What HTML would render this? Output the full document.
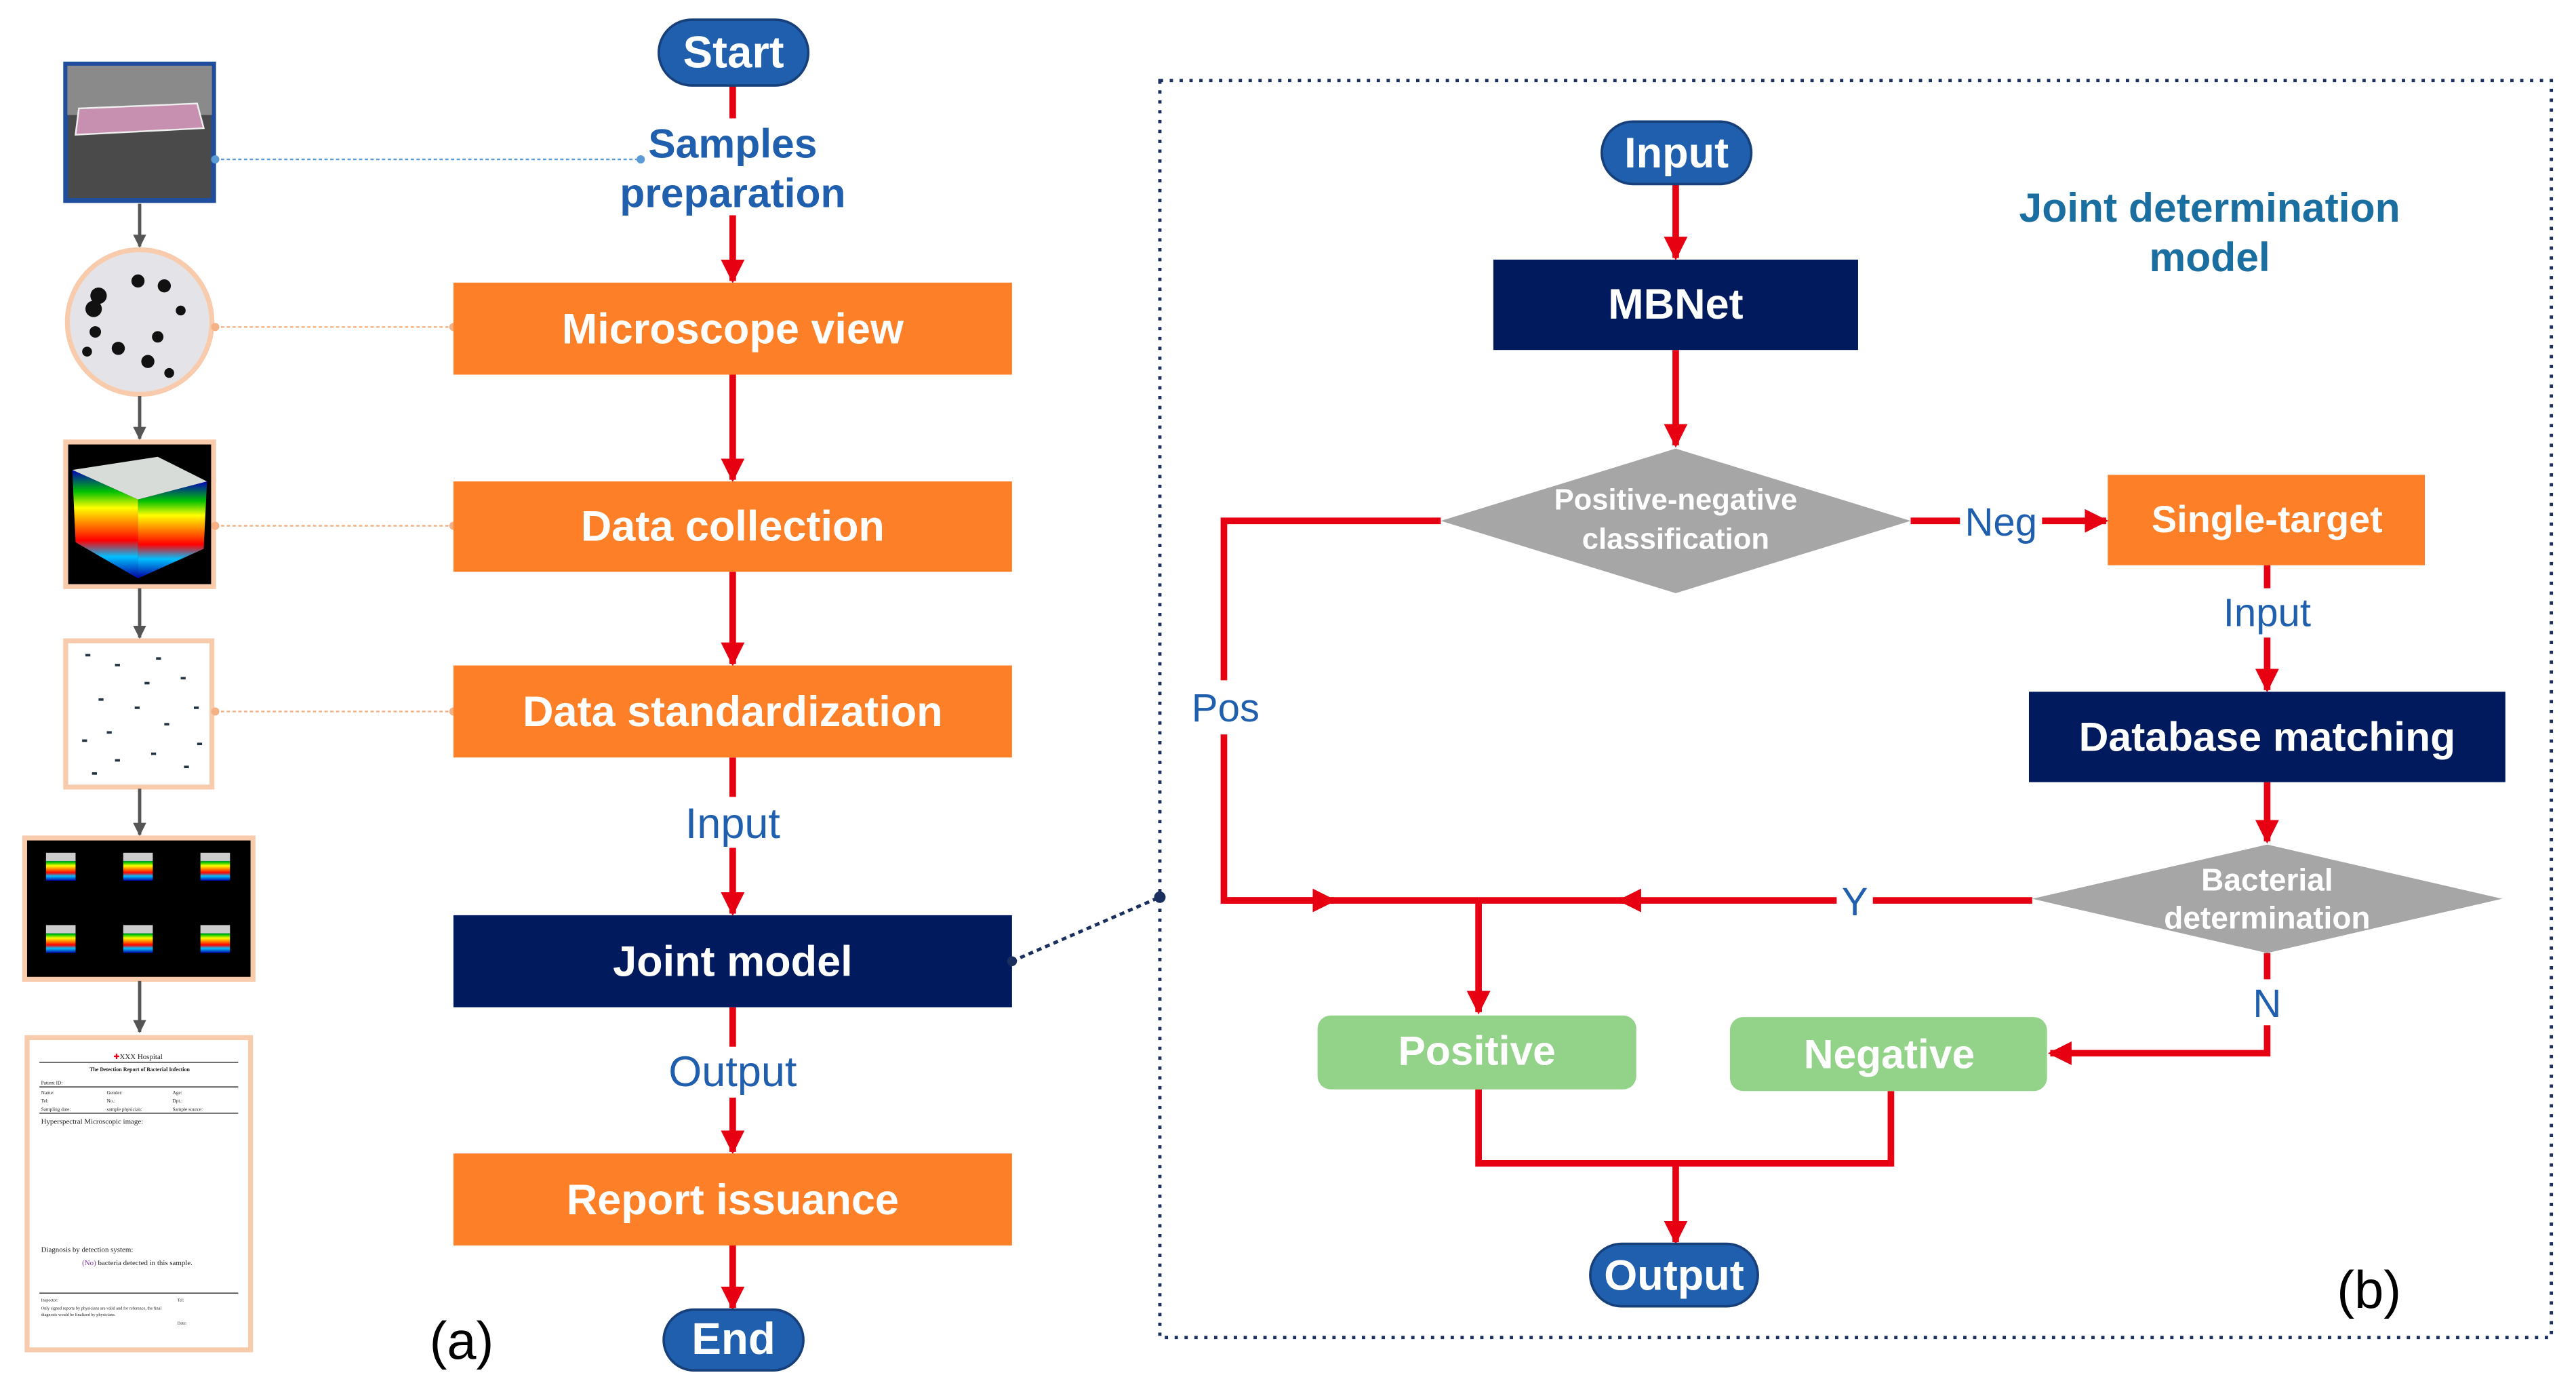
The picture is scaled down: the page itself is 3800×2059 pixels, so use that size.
<!DOCTYPE html>
<html><head><meta charset="utf-8"><style>html,body{margin:0;padding:0;background:#fff}svg{display:block}</style></head>
<body>
<svg width="3800" height="2059" viewBox="0 0 1568 849.6" preserveAspectRatio="none" xmlns="http://www.w3.org/2000/svg" font-family="Liberation Sans, sans-serif">
<defs>
<marker id="ar" viewBox="0 0 10 10" refX="9" refY="5" markerWidth="3.6" markerHeight="3.6" orient="auto" markerUnits="strokeWidth"><path d="M0,0 L10,5 L0,10 z" fill="#e60012"/></marker>
<marker id="ag" viewBox="0 0 10 10" refX="9" refY="5" markerWidth="4" markerHeight="4" orient="auto" markerUnits="strokeWidth"><path d="M0,0 L10,5 L0,10 z" fill="#555"/></marker>
<linearGradient id="bands" x1="0" y1="0" x2="0" y2="1">
<stop offset="0" stop-color="#0000c0"/><stop offset=".2" stop-color="#00c000"/><stop offset=".35" stop-color="#ffff00"/><stop offset=".5" stop-color="#ff8000"/><stop offset=".65" stop-color="#ff0000"/><stop offset=".8" stop-color="#00c0ff"/><stop offset="1" stop-color="#0000a0"/></linearGradient>
</defs>

<!-- LEFT IMAGES -->
<rect x="40" y="39" width="90" height="83" fill="#4a4a4a" stroke="#1f4e9c" stroke-width="3"/>
<rect x="41" y="40" width="88" height="30" fill="#8a8a8a"/>
<path d="M48 66 L120 63 L124 78 L46 82z" fill="#c890b0" stroke="#eee" stroke-width="1"/>
<circle cx="85" cy="196" r="44" fill="#e4e4e8" stroke="#f8cbad" stroke-width="3"/>
<g fill="#111"><circle cx="60" cy="180" r="5"/><circle cx="57" cy="188" r="5"/><circle cx="84" cy="171" r="4"/><circle cx="100" cy="174" r="4"/><circle cx="110" cy="189" r="3"/><circle cx="58" cy="202" r="3.5"/><circle cx="96" cy="205" r="3.5"/><circle cx="72" cy="212" r="4"/><circle cx="90" cy="220" r="4"/><circle cx="53" cy="214" r="3"/><circle cx="103" cy="227" r="3"/></g>
<rect x="40" y="269" width="90" height="88" fill="#000" stroke="#f8cbad" stroke-width="3"/>
<path d="M44 286 L96 278 L126 293 L84 304z" fill="#d8dcd8"/>
<path d="M44 286 L84 304 L84 352 L46 330z" fill="url(#bands)"/>
<path d="M84 304 L126 293 L124 334 L84 352z" fill="url(#bands)"/>
<rect x="40" y="390" width="89" height="89" fill="#fff" stroke="#f8cbad" stroke-width="3"/>
<g fill="#234" ><rect x="52" y="398" width="3" height="1.5"/><rect x="70" y="404" width="3" height="1.5"/><rect x="95" y="400" width="3" height="1.5"/><rect x="110" y="412" width="3" height="1.5"/><rect x="60" y="425" width="3" height="1.5"/><rect x="82" y="430" width="3" height="1.5"/><rect x="100" y="440" width="3" height="1.5"/><rect x="118" y="430" width="3" height="1.5"/><rect x="50" y="450" width="3" height="1.5"/><rect x="70" y="462" width="3" height="1.5"/><rect x="92" y="458" width="3" height="1.5"/><rect x="112" y="466" width="3" height="1.5"/><rect x="65" y="445" width="3" height="1.5"/><rect x="88" y="415" width="3" height="1.5"/><rect x="120" y="452" width="3" height="1.5"/><rect x="56" y="470" width="3" height="1.5"/></g>
<rect x="15" y="510" width="139" height="86" fill="#000" stroke="#f8cbad" stroke-width="3"/>
<g><rect x="28" y="522" width="18" height="14" fill="url(#bands)"/><rect x="28" y="519" width="18" height="5" fill="#ccc"/>
<rect x="75" y="522" width="18" height="14" fill="url(#bands)"/><rect x="75" y="519" width="18" height="5" fill="#ccc"/>
<rect x="122" y="522" width="18" height="14" fill="url(#bands)"/><rect x="122" y="519" width="18" height="5" fill="#ccc"/>
<rect x="28" y="566" width="18" height="14" fill="url(#bands)"/><rect x="28" y="563" width="18" height="5" fill="#ccc"/>
<rect x="75" y="566" width="18" height="14" fill="url(#bands)"/><rect x="75" y="563" width="18" height="5" fill="#ccc"/>
<rect x="122" y="566" width="18" height="14" fill="url(#bands)"/><rect x="122" y="563" width="18" height="5" fill="#ccc"/></g>
<rect x="16.5" y="631.5" width="136" height="190" fill="#fff" stroke="#f8cbad" stroke-width="3"/>
<g font-family="Liberation Serif, serif" fill="#222">
<text x="84" y="644.5" font-size="4.5" text-anchor="middle"><tspan fill="#e60012">✚</tspan>XXX Hospital</text>
<line x1="24" y1="646.5" x2="145" y2="646.5" stroke="#333" stroke-width=".6"/>
<text x="85" y="652" font-size="3.3" font-weight="bold" text-anchor="middle">The Detection Report of Bacterial Infection</text>
<text x="25" y="660" font-size="3">Patient ID:</text>
<line x1="24" y1="661.5" x2="145" y2="661.5" stroke="#333" stroke-width=".6"/>
<text font-size="3"><tspan x="25" y="666">Name:</tspan><tspan x="65" y="666">Gender:</tspan><tspan x="105" y="666">Age:</tspan><tspan x="25" y="671">Tel:</tspan><tspan x="65" y="671">No.:</tspan><tspan x="105" y="671">Dpt.:</tspan><tspan x="25" y="676">Sampling date:</tspan><tspan x="65" y="676">sample physician:</tspan><tspan x="105" y="676">Sample source:</tspan></text>
<line x1="24" y1="677.5" x2="145" y2="677.5" stroke="#333" stroke-width=".6"/>
<text x="25" y="684" font-size="4.5">Hyperspectral Microscopic image:</text>
<text x="25" y="762" font-size="4.5">Diagnosis by detection system:</text>
<text x="50" y="770" font-size="4.5"><tspan fill="#7030a0">(No)</tspan> bacteria detected in this sample.</text>
<line x1="24" y1="787" x2="145" y2="787" stroke="#333" stroke-width=".6"/>
<text font-size="2.6"><tspan x="25" y="792">Inspector:</tspan><tspan x="108" y="792">Tel:</tspan><tspan x="25" y="797">Only signed reports by physicians are valid and for reference, the final</tspan><tspan x="25" y="801">diagnosis would be finalized by physicians.</tspan><tspan x="108" y="806">Date:</tspan></text>
</g>
<g stroke="#555" stroke-width="2" marker-end="url(#ag)"><line x1="85" y1="124" x2="85" y2="150"/><line x1="85" y1="241" x2="85" y2="267"/><line x1="85" y1="358" x2="85" y2="388"/><line x1="85" y1="480" x2="85" y2="508"/><line x1="85" y1="597" x2="85" y2="628"/></g>
<g stroke-dasharray="2,1.5" stroke-width="1"><line x1="131" y1="97" x2="390" y2="97" stroke="#5b9bd5"/><line x1="131" y1="199" x2="276" y2="199" stroke="#f4b183"/><line x1="131" y1="320" x2="276" y2="320" stroke="#f4b183"/><line x1="131" y1="433" x2="276" y2="433" stroke="#f4b183"/></g>
<g><circle cx="131" cy="97" r="2.5" fill="#5b9bd5"/><circle cx="390" cy="97" r="2.5" fill="#5b9bd5"/><circle cx="131" cy="199" r="2.5" fill="#f4b183"/><circle cx="276" cy="199" r="2.5" fill="#f4b183"/><circle cx="131" cy="320" r="2.5" fill="#f4b183"/><circle cx="276" cy="320" r="2.5" fill="#f4b183"/><circle cx="131" cy="433" r="2.5" fill="#f4b183"/><circle cx="276" cy="433" r="2.5" fill="#f4b183"/></g>

<!-- CENTER COLUMN -->
<g stroke="#e60012" stroke-width="4" fill="none">
<line x1="446" y1="52" x2="446" y2="72"/>
<line x1="446" y1="131" x2="446" y2="171" marker-end="url(#ar)"/>
<line x1="446" y1="228" x2="446" y2="292" marker-end="url(#ar)"/>
<line x1="446" y1="348" x2="446" y2="404" marker-end="url(#ar)"/>
<line x1="446" y1="461" x2="446" y2="485"/>
<line x1="446" y1="516" x2="446" y2="556" marker-end="url(#ar)"/>
<line x1="446" y1="613" x2="446" y2="637"/>
<line x1="446" y1="668" x2="446" y2="701" marker-end="url(#ar)"/>
<line x1="446" y1="758" x2="446" y2="796" marker-end="url(#ar)"/>
</g>
<rect x="401" y="12" width="91" height="40" rx="20" fill="#1f5fad" stroke="#17407a" stroke-width="1.5"/>
<text x="446.5" y="41" font-size="27" font-weight="bold" fill="#fff" text-anchor="middle">Start</text>
<text x="446" y="96" font-size="25" font-weight="bold" fill="#1f5fad" text-anchor="middle">Samples</text>
<text x="446" y="126" font-size="25" font-weight="bold" fill="#1f5fad" text-anchor="middle">preparation</text>
<g font-size="26" font-weight="bold" fill="#fff" text-anchor="middle">
<rect x="276" y="172" width="340" height="56" fill="#fd7f27"/><text x="446" y="209">Microscope view</text>
<rect x="276" y="293" width="340" height="55" fill="#fd7f27"/><text x="446" y="329">Data collection</text>
<rect x="276" y="405" width="340" height="56" fill="#fd7f27"/><text x="446" y="442">Data standardization</text>
<rect x="276" y="557" width="340" height="56" fill="#001a5e"/><text x="446" y="594">Joint model</text>
<rect x="276" y="702" width="340" height="56" fill="#fd7f27"/><text x="446" y="739">Report issuance</text>
</g>
<text x="446" y="510" font-size="26" fill="#1f5fad" text-anchor="middle">Input</text>
<text x="446" y="661" font-size="26" fill="#1f5fad" text-anchor="middle">Output</text>
<rect x="404" y="797" width="85" height="37" rx="18.5" fill="#1f5fad" stroke="#17407a" stroke-width="1.5"/>
<text x="446.5" y="824" font-size="27" font-weight="bold" fill="#fff" text-anchor="middle">End</text>
<text x="281" y="827" font-size="32" fill="#000" text-anchor="middle">(a)</text>
<line x1="616" y1="585" x2="706" y2="546" stroke="#1a2f5e" stroke-width="2" stroke-dasharray="3,2.5"/>
<circle cx="616" cy="585" r="3" fill="#1a2f5e"/><circle cx="706" cy="546" r="3.5" fill="#1a2f5e"/>

<!-- RIGHT BOX -->
<rect x="706" y="49" width="847" height="765" fill="none" stroke="#1a2f5e" stroke-width="2" stroke-dasharray="2,4"/>
<text x="1345" y="135" font-size="25" font-weight="bold" fill="#1a6fa0" text-anchor="middle">Joint determination</text>
<text x="1345" y="165" font-size="25" font-weight="bold" fill="#1a6fa0" text-anchor="middle">model</text>
<text x="1442" y="796" font-size="32" fill="#000" text-anchor="middle">(b)</text>

<g stroke="#e60012" stroke-width="4" fill="none">
<line x1="1020" y1="112" x2="1020" y2="157" marker-end="url(#ar)"/>
<line x1="1020" y1="213" x2="1020" y2="271" marker-end="url(#ar)"/>
<polyline points="877,317 745,317 745,414"/>
<polyline points="745,447 745,548 900,548"/>
<line x1="745" y1="548" x2="812" y2="548" marker-end="url(#ar)"/>
<line x1="1237" y1="548" x2="1140" y2="548"/>
<line x1="1118" y1="548" x2="986" y2="548" marker-end="url(#ar)"/>
<line x1="1000" y1="548" x2="900" y2="548"/>
<line x1="900" y1="548" x2="900" y2="616" marker-end="url(#ar)"/>
<line x1="1163" y1="317" x2="1193" y2="317"/>
<line x1="1243" y1="317" x2="1282" y2="317" marker-end="url(#ar)"/>
<line x1="1380" y1="344" x2="1380" y2="358"/>
<line x1="1380" y1="388" x2="1380" y2="420" marker-end="url(#ar)"/>
<line x1="1380" y1="476" x2="1380" y2="512" marker-end="url(#ar)"/>
<line x1="1380" y1="580" x2="1380" y2="596"/>
<polyline points="1380,624 1380,641 1248,641" marker-end="url(#ar)"/>
<polyline points="900,663 900,708 1151,708 1151,664"/>
<line x1="1020" y1="708" x2="1020" y2="756" marker-end="url(#ar)"/>
</g>
<text x="746" y="439" font-size="24" fill="#1f5fad" text-anchor="middle">Pos</text>
<text x="1218" y="326" font-size="24" fill="#1f5fad" text-anchor="middle">Neg</text>
<text x="1380" y="381" font-size="24" fill="#1f5fad" text-anchor="middle">Input</text>
<text x="1129" y="557" font-size="24" fill="#1f5fad" text-anchor="middle">Y</text>
<text x="1380" y="619" font-size="24" fill="#1f5fad" text-anchor="middle">N</text>

<rect x="975" y="74" width="91" height="38" rx="19" fill="#1f5fad" stroke="#17407a" stroke-width="1.5"/>
<text x="1020.5" y="102" font-size="26" font-weight="bold" fill="#fff" text-anchor="middle">Input</text>
<rect x="909" y="158" width="222" height="55" fill="#001a5e"/>
<text x="1020" y="194" font-size="26" font-weight="bold" fill="#fff" text-anchor="middle">MBNet</text>
<polygon points="877,317 1020,273 1163,317 1020,361" fill="#a6a6a6"/>
<text x="1020" y="310" font-size="18" font-weight="bold" fill="#fff" text-anchor="middle">Positive-negative</text>
<text x="1020" y="334" font-size="18" font-weight="bold" fill="#fff" text-anchor="middle">classification</text>
<rect x="1283" y="289" width="193" height="55" fill="#fd7f27"/>
<text x="1380" y="324" font-size="23" font-weight="bold" fill="#fff" text-anchor="middle">Single-target</text>
<rect x="1235" y="421" width="290" height="55" fill="#001a5e"/>
<text x="1380" y="457" font-size="25" font-weight="bold" fill="#fff" text-anchor="middle">Database matching</text>
<polygon points="1237,547 1380,514 1523,547 1380,580" fill="#a6a6a6"/>
<text x="1380" y="542" font-size="19" font-weight="bold" fill="#fff" text-anchor="middle">Bacterial</text>
<text x="1380" y="565" font-size="19" font-weight="bold" fill="#fff" text-anchor="middle">determination</text>
<rect x="802" y="618" width="194" height="45" rx="8" fill="#93d389"/>
<text x="899" y="648" font-size="25" font-weight="bold" fill="#fff" text-anchor="middle">Positive</text>
<rect x="1053" y="619" width="193" height="45" rx="8" fill="#93d389"/>
<text x="1150" y="650" font-size="25" font-weight="bold" fill="#fff" text-anchor="middle">Negative</text>
<rect x="968" y="757" width="102" height="38" rx="19" fill="#1f5fad" stroke="#17407a" stroke-width="1.5"/>
<text x="1019" y="785" font-size="26" font-weight="bold" fill="#fff" text-anchor="middle">Output</text>
</svg>
</body></html>
